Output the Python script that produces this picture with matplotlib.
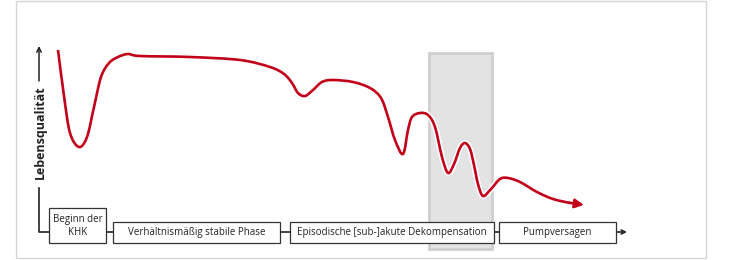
import numpy as np
import matplotlib.pyplot as plt
import matplotlib.patheffects as pe
from matplotlib.patches import Rectangle, PathPatch
from matplotlib.path import Path

# quality-of-life curve (pixel space, y grows downwards)
curve_x = [58, 64, 70, 79, 87, 94, 101, 109, 118, 128, 140, 190, 240,
           270, 284, 292, 298, 305, 313, 322, 333, 353, 370, 381, 388, 395,
           403, 408, 412, 420, 428, 435, 442, 448, 454, 460, 465, 470, 474,
           478, 483, 491, 500, 508, 520, 537, 553, 570]
curve_y = [50, 96, 133, 147, 137, 107, 77, 63, 57, 54, 56, 57, 60,
           67, 74, 83, 93, 96, 90, 82, 80, 82, 88, 98, 117, 140,
           154, 130, 117, 113, 115, 127, 157, 173, 164, 148, 143, 149, 165,
           184, 196, 189, 179, 178, 182, 192, 199, 203]
arrow_tip = (584, 205)

stages = ["Beginn der\nKHK", "Verhältnismäßig stabile Phase",
          "Episodische [sub-]akute Dekompensation", "Pumpversagen"]
stage_left = [49, 113, 290, 499]
stage_right = [106, 280, 494, 616]
stage_top = [208, 222, 222, 222]

red = "#c3001a"
dark = "#222222"
plt.rcParams["font.family"] = ["Open Sans", "DejaVu Sans"]

fig = plt.figure(figsize=(7.29, 2.60), dpi=100)
ax = fig.add_axes([0, 0, 1, 1])
ax.set_xlim(0, 729)
ax.set_ylim(260, 0)
ax.axis("off")

# outer frame
ax.add_patch(Rectangle((16, 1), 690, 257, fill=False, edgecolor="#d6d6d6", lw=1))

# highlighted decompensation window
ax.add_patch(Rectangle((429, 53), 63, 196, facecolor="#e3e3e3",
                       edgecolor="#cfcfcf", lw=2, zorder=1))

# y axis and timeline connectors
ax.plot([39, 39, 49], [188, 232, 232], color=dark, lw=1.2, zorder=2)
for i in range(len(stages) - 1):
    ax.plot([stage_right[i], stage_left[i + 1]], [232, 232], color=dark,
            lw=1.2, zorder=2)
ax.annotate("", xy=(627, 232), xytext=(616, 232),
            arrowprops=dict(arrowstyle="->", color=dark, lw=1.2,
                            shrinkA=0, shrinkB=0, mutation_scale=7))

for name, l, r, t in zip(stages, stage_left, stage_right, stage_top):
    ax.add_patch(Rectangle((l, t), r - l, 243 - t, facecolor="white",
                           edgecolor="#333333", lw=0.9, zorder=3))
    ax.text((l + r) / 2, (t + 243) / 2 + 0.5, name, ha="center", va="center",
            fontsize=7, color=dark, linespacing=1.25, zorder=4)

# y label with its arrow
ax.text(40.5, 132, "Lebensqualität", rotation=90, ha="center", va="center",
        fontsize=9, fontweight="bold", color=dark)
ax.annotate("", xy=(39, 46), xytext=(39, 81),
            arrowprops=dict(arrowstyle="->", color=dark, lw=1.1,
                            shrinkA=0, shrinkB=0, mutation_scale=8))

# smooth curve through the read points (Catmull-Rom as cubic Bezier)
pts = np.column_stack([curve_x, curve_y]).astype(float)
n = len(pts)
verts = [pts[0]]
codes = [Path.MOVETO]
for i in range(n - 1):
    p0 = pts[max(i - 1, 0)]
    p3 = pts[min(i + 2, n - 1)]
    c1 = pts[i] + (pts[i + 1] - p0) / 6
    c2 = pts[i + 1] - (p3 - pts[i]) / 6
    verts += [c1, c2, pts[i + 1]]
    codes += [Path.CURVE4] * 3

halo = [pe.Stroke(linewidth=4.2, foreground="white"), pe.Normal()]
ax.add_patch(PathPatch(Path(verts, codes), fill=False, edgecolor=red, lw=1.9,
                       capstyle="butt", joinstyle="round", path_effects=halo,
                       zorder=5))
ax.annotate("", xy=arrow_tip, xytext=(curve_x[-1] - 1, curve_y[-1] - 0.3),
            arrowprops=dict(arrowstyle="-|>", color=red, lw=1.9,
                            shrinkA=0, shrinkB=0, mutation_scale=13),
            zorder=5)

fig.savefig("out.png", dpi=100)
